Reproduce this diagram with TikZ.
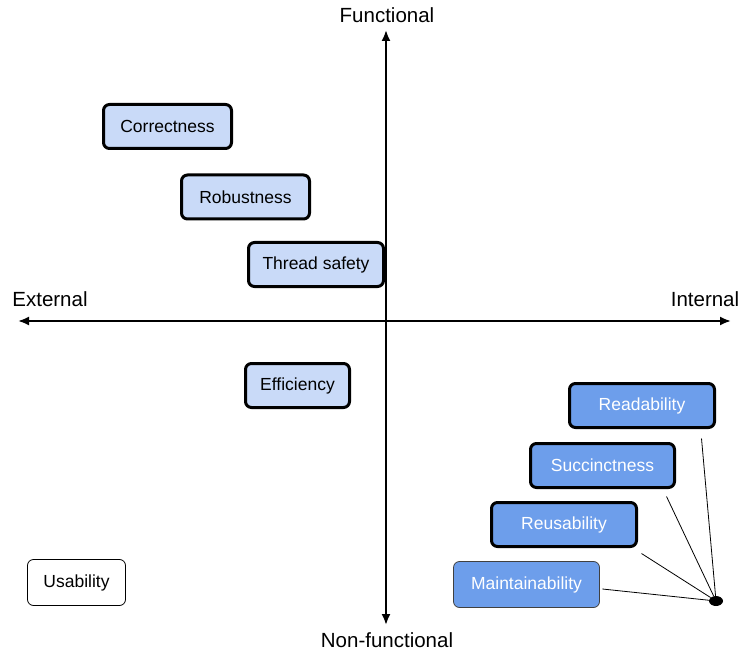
\documentclass[tikz,border=0pt]{standalone}
\usepackage{fontspec}
\setmainfont{Liberation Sans}
\usetikzlibrary{arrows.meta,shapes.geometric}
\definecolor{lightblue}{HTML}{C9DAF8}
\definecolor{midblue}{HTML}{6D9EEB}
\begin{document}
\begin{tikzpicture}
  [x=1pt,y=-1pt,
   quality/.style={rectangle,rounded corners=6pt,draw,line width=3pt,fill=lightblue,
     inner sep=0pt,minimum height=44pt,font=\fontsize{17.5}{20}\selectfont},
   internal/.style={quality,fill=midblue,text=white},
   thinbox/.style={quality,line width=0.8pt,minimum height=46pt},
   axislabel/.style={font=\fontsize{20.5}{24}\selectfont}]
  \useasboundingbox (0,0) rectangle (741,652);
  % axes
  \coordinate (west) at (18,321);
  \coordinate (east) at (731,321);
  \coordinate (north) at (386,30);
  \coordinate (south) at (386,625);
  \draw[line width=2pt,{Latex[length=11pt,width=9pt]}-{Latex[length=11pt,width=9pt]}] (west) -- (east);
  \draw[line width=2pt,{Latex[length=11pt,width=9pt]}-{Latex[length=11pt,width=9pt]}] (south) -- (north);
  \node[axislabel] (fn) at (387,15) {Functional};
  \node[axislabel] (nfn) at (387,640) {Non-functional};
  \node[axislabel] (ext) at (50,299) {External};
  \node[axislabel] (int) at (705,299) {Internal};
  % qualities
  \node[quality,minimum width=128pt] (co) at (167.5,126.5) {Correctness};
  \node[quality,minimum width=128pt] (ro) at (245.5,197) {Robustness};
  \node[quality,minimum width=135pt] (ts) at (316,264.5) {Thread safety};
  \node[quality,minimum width=104pt] (ef) at (297.5,385.5) {Efficiency};
  \node[thinbox,fill=white,minimum width=98pt] (us) at (76.5,582.5) {Usability};
  \node[internal,minimum width=145pt] (rd) at (642,405.5) {Readability};
  \node[internal,minimum width=144pt] (su) at (602.5,465.5) {Succinctness};
  \node[internal,minimum width=145pt] (re) at (564,524.5) {Reusability};
  \node[thinbox,fill=midblue,text=white,draw=black!75,minimum width=146pt] (mt) at (526.5,584.5) {Maintainability};
  % links to the hub
  \node[ellipse,fill,inner sep=0pt,minimum width=14pt,minimum height=10pt] (hub) at (716,601) {};
  \draw[line width=0.8pt] ([xshift=-14.5pt,yshift=-9.5pt]rd.south east) -- (hub);
  \draw[line width=0.8pt] ([xshift=-9.5pt,yshift=-7.5pt]su.south east) -- (hub);
  \draw[line width=0.8pt] ([xshift=3.5pt,yshift=-5.5pt]re.south east) -- (hub);
  \draw[line width=0.8pt] ([xshift=2.5pt,yshift=-4.5pt]mt.east) -- (hub);
\end{tikzpicture}
\end{document}
